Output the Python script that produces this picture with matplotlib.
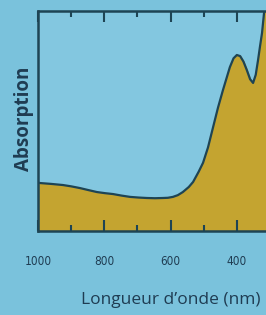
import matplotlib
matplotlib.use("Agg")
import matplotlib.pyplot as plt
from matplotlib.ticker import MultipleLocator

# Data
wavelength_nm = [1000, 994, 960, 925, 900, 873, 848, 822, 798, 774, 748, 722, 696, 671, 647,
                 623, 608, 593, 578, 563, 545, 532, 515, 502, 487, 472, 457, 442, 430,
                 421, 410, 400, 390, 380, 370, 360, 351, 343, 336, 330, 324, 318, 310]
absorbance = [0.22, 0.218, 0.214, 0.209, 0.203, 0.195, 0.186, 0.177, 0.172, 0.168, 0.161, 0.155,
              0.152, 0.150, 0.149, 0.150, 0.151, 0.155, 0.163, 0.177, 0.20, 0.223, 0.27,
              0.31, 0.38, 0.47, 0.56, 0.64, 0.70, 0.745, 0.785, 0.80, 0.795, 0.77,
              0.732, 0.69, 0.673, 0.71, 0.777, 0.84, 0.90, 0.99, 1.1]
major_ticks = [1000, 800, 600, 400]
tick_labels = ["1000", "800", "600", "400"]
x_label = "Longueur d\u2019onde (nm)"
y_label = "Absorption"

bg = "#7ac2dc"
ax_bg = "#83c7e0"
fill_c = "#c4a430"
line_c = "#1e4454"
text_c = "#1f3c52"

fig = plt.figure(figsize=(2.66, 3.15), dpi=100, facecolor=bg)
ax = fig.add_axes([38/266, 1 - 231/315, 1 - 38/266, (231 - 11)/315], facecolor=ax_bg)

ax.fill_between(wavelength_nm, absorbance, 0, color=fill_c, zorder=1)
ax.plot(wavelength_nm, absorbance, color=line_c, lw=1.6, zorder=2)

ax.set_xlim(1000, 312)
ax.set_ylim(0, 1)
ax.set_yticks([])
ax.set_xticks(major_ticks)
ax.set_xticklabels(tick_labels, fontsize=8.5, color=text_c, fontstretch="condensed",
                   family="DejaVu Sans")
ax.xaxis.set_minor_locator(MultipleLocator(100))
ax.tick_params(axis="x", which="major", direction="in", length=8, width=1.5,
               color=line_c, top=True, bottom=True, pad=17)
ax.tick_params(axis="x", which="minor", direction="in", length=4, width=1.5,
               color=line_c, top=True, bottom=True)

for s in ["left", "bottom", "top"]:
    ax.spines[s].set_color(line_c)
    ax.spines[s].set_linewidth(1.8)
ax.spines["right"].set_visible(False)

fig.text(24/266, 1 - 119/315, y_label, rotation=90, ha="center", va="center",
         fontsize=13.5, fontweight="bold", color=text_c, family="Open Sans")
fig.text(171/266, 1 - 300/315, x_label, ha="center", va="center",
         fontsize=12.5, color=text_c, family="Open Sans")

fig.savefig("out.png", dpi=100, facecolor=bg)
